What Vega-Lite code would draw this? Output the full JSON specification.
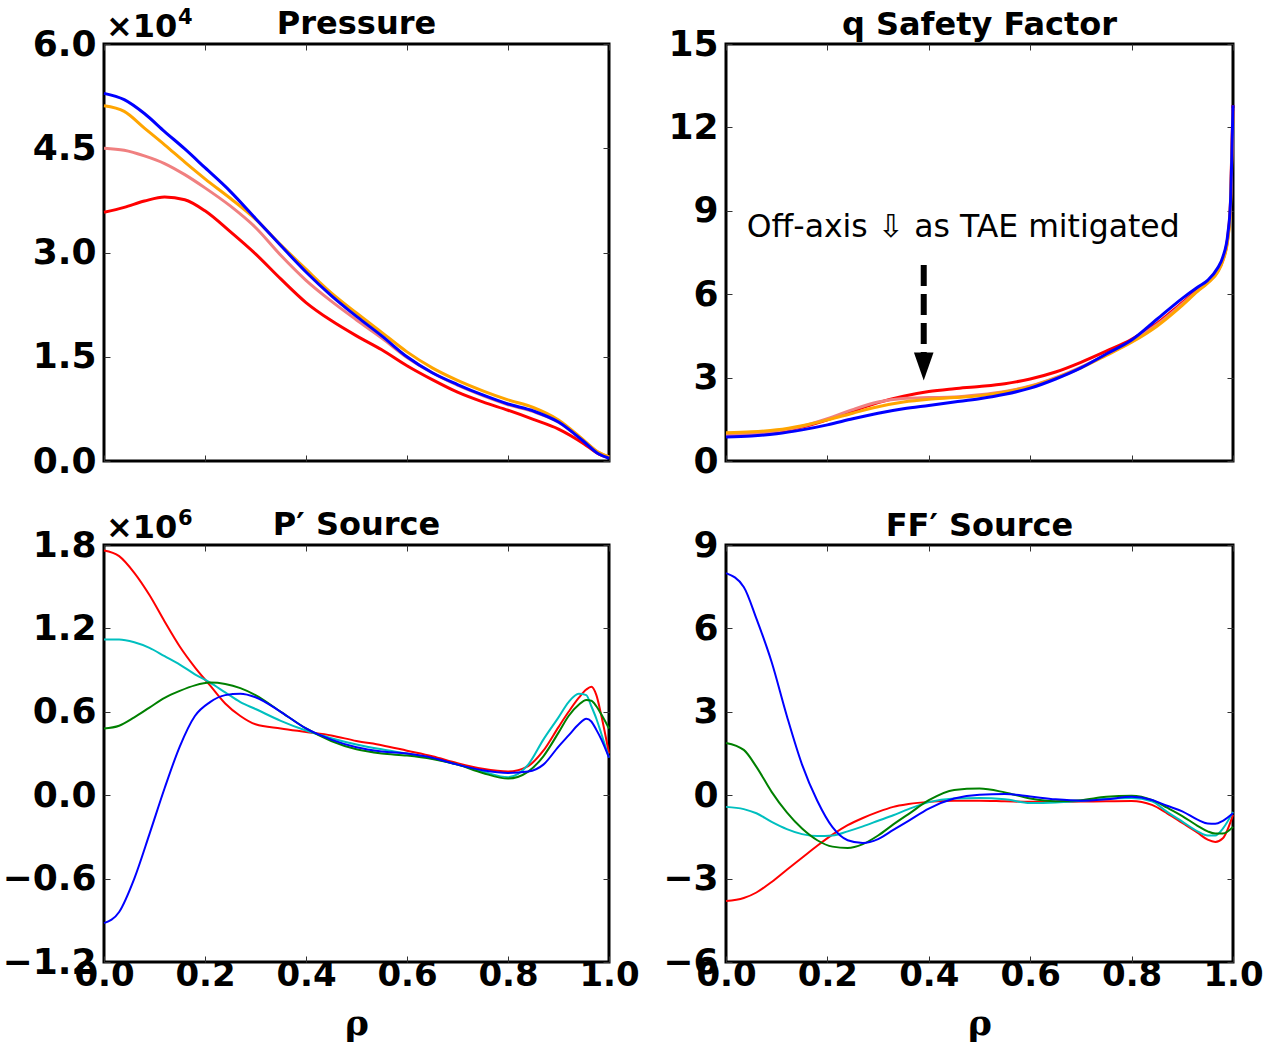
{
  "$schema": "https://vega.github.io/schema/vega-lite/v6.json",
  "background": "white",
  "padding": {"left": 0, "top": 5, "right": 0, "bottom": 0},
  "columns": 2,
  "spacing": {"row": 84, "column": 117},
  "bounds": "flush",
  "resolve": {"scale": {"color": "independent"}},
  "datasets": {
    "pressure": [
      {"rho":0,"case":"c1","p":35800},{"rho":0.04,"case":"c1","p":36500},{"rho":0.08,"case":"c1","p":37400},{"rho":0.12,"case":"c1","p":38000},{"rho":0.16,"case":"c1","p":37600},{"rho":0.2,"case":"c1","p":36000},{"rho":0.25,"case":"c1","p":33000},{"rho":0.3,"case":"c1","p":29800},{"rho":0.35,"case":"c1","p":26200},{"rho":0.4,"case":"c1","p":22800},{"rho":0.45,"case":"c1","p":20200},{"rho":0.5,"case":"c1","p":18000},{"rho":0.55,"case":"c1","p":16000},{"rho":0.6,"case":"c1","p":13700},{"rho":0.65,"case":"c1","p":11700},{"rho":0.7,"case":"c1","p":9900},{"rho":0.75,"case":"c1","p":8500},{"rho":0.8,"case":"c1","p":7300},{"rho":0.85,"case":"c1","p":6000},{"rho":0.9,"case":"c1","p":4600},{"rho":0.95,"case":"c1","p":2500},{"rho":0.98,"case":"c1","p":1000},{"rho":1,"case":"c1","p":500},
      {"rho":0,"case":"c2","p":45000},{"rho":0.04,"case":"c2","p":44700},{"rho":0.08,"case":"c2","p":43900},{"rho":0.12,"case":"c2","p":42800},{"rho":0.16,"case":"c2","p":41200},{"rho":0.2,"case":"c2","p":39300},{"rho":0.25,"case":"c2","p":36700},{"rho":0.3,"case":"c2","p":33600},{"rho":0.35,"case":"c2","p":29600},{"rho":0.4,"case":"c2","p":26000},{"rho":0.45,"case":"c2","p":23000},{"rho":0.5,"case":"c2","p":20300},{"rho":0.55,"case":"c2","p":17700},{"rho":0.6,"case":"c2","p":14900},{"rho":0.65,"case":"c2","p":12700},{"rho":0.7,"case":"c2","p":10900},{"rho":0.75,"case":"c2","p":9400},{"rho":0.8,"case":"c2","p":8100},{"rho":0.85,"case":"c2","p":7100},{"rho":0.9,"case":"c2","p":5600},{"rho":0.95,"case":"c2","p":2900},{"rho":0.98,"case":"c2","p":1200},{"rho":1,"case":"c2","p":600},
      {"rho":0,"case":"c3","p":51100},{"rho":0.04,"case":"c3","p":50300},{"rho":0.08,"case":"c3","p":47900},{"rho":0.12,"case":"c3","p":45500},{"rho":0.16,"case":"c3","p":43000},{"rho":0.2,"case":"c3","p":40600},{"rho":0.25,"case":"c3","p":37800},{"rho":0.3,"case":"c3","p":34800},{"rho":0.35,"case":"c3","p":31100},{"rho":0.4,"case":"c3","p":27600},{"rho":0.45,"case":"c3","p":24200},{"rho":0.5,"case":"c3","p":21300},{"rho":0.55,"case":"c3","p":18500},{"rho":0.6,"case":"c3","p":15700},{"rho":0.65,"case":"c3","p":13400},{"rho":0.7,"case":"c3","p":11600},{"rho":0.75,"case":"c3","p":10100},{"rho":0.8,"case":"c3","p":8800},{"rho":0.85,"case":"c3","p":7700},{"rho":0.9,"case":"c3","p":5900},{"rho":0.95,"case":"c3","p":3000},{"rho":0.98,"case":"c3","p":1200},{"rho":1,"case":"c3","p":600},
      {"rho":0,"case":"c4","p":52900},{"rho":0.04,"case":"c4","p":52000},{"rho":0.08,"case":"c4","p":50000},{"rho":0.12,"case":"c4","p":47400},{"rho":0.16,"case":"c4","p":44900},{"rho":0.2,"case":"c4","p":42200},{"rho":0.25,"case":"c4","p":38800},{"rho":0.3,"case":"c4","p":34900},{"rho":0.35,"case":"c4","p":31000},{"rho":0.4,"case":"c4","p":27200},{"rho":0.45,"case":"c4","p":23800},{"rho":0.5,"case":"c4","p":20800},{"rho":0.55,"case":"c4","p":18000},{"rho":0.6,"case":"c4","p":15000},{"rho":0.65,"case":"c4","p":12700},{"rho":0.7,"case":"c4","p":11000},{"rho":0.75,"case":"c4","p":9500},{"rho":0.8,"case":"c4","p":8200},{"rho":0.85,"case":"c4","p":7200},{"rho":0.9,"case":"c4","p":5600},{"rho":0.95,"case":"c4","p":2800},{"rho":0.98,"case":"c4","p":1000},{"rho":1,"case":"c4","p":400}
    ],
    "safety": [
      {"rho":0,"case":"c1","q":0.92},{"rho":0.05,"case":"c1","q":0.96},{"rho":0.1,"case":"c1","q":1.05},{"rho":0.15,"case":"c1","q":1.22},{"rho":0.2,"case":"c1","q":1.48},{"rho":0.25,"case":"c1","q":1.8},{"rho":0.3,"case":"c1","q":2.1},{"rho":0.35,"case":"c1","q":2.33},{"rho":0.4,"case":"c1","q":2.5},{"rho":0.45,"case":"c1","q":2.6},{"rho":0.5,"case":"c1","q":2.68},{"rho":0.55,"case":"c1","q":2.78},{"rho":0.6,"case":"c1","q":2.95},{"rho":0.65,"case":"c1","q":3.2},{"rho":0.7,"case":"c1","q":3.55},{"rho":0.75,"case":"c1","q":3.95},{"rho":0.8,"case":"c1","q":4.38},{"rho":0.85,"case":"c1","q":4.95},{"rho":0.9,"case":"c1","q":5.7},{"rho":0.93,"case":"c1","q":6.15},{"rho":0.95,"case":"c1","q":6.45},{"rho":0.97,"case":"c1","q":6.85},{"rho":0.98,"case":"c1","q":7.25},{"rho":0.99,"case":"c1","q":8.1},{"rho":0.995,"case":"c1","q":9.3},{"rho":1,"case":"c1","q":12.8},
      {"rho":0,"case":"c2","q":0.95},{"rho":0.05,"case":"c2","q":0.98},{"rho":0.1,"case":"c2","q":1.08},{"rho":0.15,"case":"c2","q":1.25},{"rho":0.2,"case":"c2","q":1.52},{"rho":0.25,"case":"c2","q":1.85},{"rho":0.3,"case":"c2","q":2.12},{"rho":0.35,"case":"c2","q":2.25},{"rho":0.4,"case":"c2","q":2.28},{"rho":0.45,"case":"c2","q":2.3},{"rho":0.5,"case":"c2","q":2.38},{"rho":0.55,"case":"c2","q":2.5},{"rho":0.6,"case":"c2","q":2.7},{"rho":0.65,"case":"c2","q":3.0},{"rho":0.7,"case":"c2","q":3.38},{"rho":0.75,"case":"c2","q":3.82},{"rho":0.8,"case":"c2","q":4.3},{"rho":0.85,"case":"c2","q":4.9},{"rho":0.9,"case":"c2","q":5.65},{"rho":0.93,"case":"c2","q":6.12},{"rho":0.95,"case":"c2","q":6.42},{"rho":0.97,"case":"c2","q":6.82},{"rho":0.98,"case":"c2","q":7.22},{"rho":0.99,"case":"c2","q":8.05},{"rho":0.995,"case":"c2","q":9.2},{"rho":1,"case":"c2","q":12.7},
      {"rho":0,"case":"c3","q":1.02},{"rho":0.05,"case":"c3","q":1.05},{"rho":0.1,"case":"c3","q":1.12},{"rho":0.15,"case":"c3","q":1.27},{"rho":0.2,"case":"c3","q":1.48},{"rho":0.25,"case":"c3","q":1.72},{"rho":0.3,"case":"c3","q":1.95},{"rho":0.35,"case":"c3","q":2.12},{"rho":0.4,"case":"c3","q":2.22},{"rho":0.45,"case":"c3","q":2.28},{"rho":0.5,"case":"c3","q":2.35},{"rho":0.55,"case":"c3","q":2.48},{"rho":0.6,"case":"c3","q":2.68},{"rho":0.65,"case":"c3","q":2.98},{"rho":0.7,"case":"c3","q":3.35},{"rho":0.75,"case":"c3","q":3.8},{"rho":0.8,"case":"c3","q":4.27},{"rho":0.85,"case":"c3","q":4.85},{"rho":0.9,"case":"c3","q":5.6},{"rho":0.93,"case":"c3","q":6.1},{"rho":0.95,"case":"c3","q":6.4},{"rho":0.97,"case":"c3","q":6.8},{"rho":0.98,"case":"c3","q":7.2},{"rho":0.99,"case":"c3","q":8.0},{"rho":0.995,"case":"c3","q":9.1},{"rho":1,"case":"c3","q":12.6},
      {"rho":0,"case":"c4","q":0.86},{"rho":0.05,"case":"c4","q":0.9},{"rho":0.1,"case":"c4","q":0.98},{"rho":0.15,"case":"c4","q":1.12},{"rho":0.2,"case":"c4","q":1.3},{"rho":0.25,"case":"c4","q":1.52},{"rho":0.3,"case":"c4","q":1.72},{"rho":0.35,"case":"c4","q":1.88},{"rho":0.4,"case":"c4","q":2.0},{"rho":0.45,"case":"c4","q":2.12},{"rho":0.5,"case":"c4","q":2.24},{"rho":0.55,"case":"c4","q":2.4},{"rho":0.6,"case":"c4","q":2.62},{"rho":0.65,"case":"c4","q":2.95},{"rho":0.7,"case":"c4","q":3.35},{"rho":0.75,"case":"c4","q":3.85},{"rho":0.8,"case":"c4","q":4.35},{"rho":0.85,"case":"c4","q":5.1},{"rho":0.9,"case":"c4","q":5.85},{"rho":0.93,"case":"c4","q":6.25},{"rho":0.95,"case":"c4","q":6.5},{"rho":0.97,"case":"c4","q":6.95},{"rho":0.98,"case":"c4","q":7.34},{"rho":0.99,"case":"c4","q":8.2},{"rho":0.995,"case":"c4","q":9.3},{"rho":1,"case":"c4","q":12.8}
    ],
    "pprime": [
      {"rho":0,"case":"s1","v":1760000},{"rho":0.03,"case":"s1","v":1720000},{"rho":0.06,"case":"s1","v":1600000},{"rho":0.09,"case":"s1","v":1440000},{"rho":0.12,"case":"s1","v":1250000},{"rho":0.15,"case":"s1","v":1070000},{"rho":0.18,"case":"s1","v":920000},{"rho":0.21,"case":"s1","v":790000},{"rho":0.24,"case":"s1","v":660000},{"rho":0.27,"case":"s1","v":570000},{"rho":0.3,"case":"s1","v":510000},{"rho":0.35,"case":"s1","v":480000},{"rho":0.4,"case":"s1","v":455000},{"rho":0.45,"case":"s1","v":430000},{"rho":0.5,"case":"s1","v":390000},{"rho":0.55,"case":"s1","v":360000},{"rho":0.6,"case":"s1","v":320000},{"rho":0.65,"case":"s1","v":280000},{"rho":0.7,"case":"s1","v":230000},{"rho":0.75,"case":"s1","v":190000},{"rho":0.8,"case":"s1","v":170000},{"rho":0.84,"case":"s1","v":210000},{"rho":0.87,"case":"s1","v":320000},{"rho":0.9,"case":"s1","v":490000},{"rho":0.92,"case":"s1","v":600000},{"rho":0.94,"case":"s1","v":700000},{"rho":0.955,"case":"s1","v":760000},{"rho":0.965,"case":"s1","v":780000},{"rho":0.975,"case":"s1","v":720000},{"rho":0.985,"case":"s1","v":570000},{"rho":1,"case":"s1","v":300000},
      {"rho":0,"case":"s2","v":1120000},{"rho":0.03,"case":"s2","v":1120000},{"rho":0.06,"case":"s2","v":1100000},{"rho":0.09,"case":"s2","v":1060000},{"rho":0.12,"case":"s2","v":1000000},{"rho":0.15,"case":"s2","v":940000},{"rho":0.18,"case":"s2","v":870000},{"rho":0.21,"case":"s2","v":810000},{"rho":0.24,"case":"s2","v":740000},{"rho":0.27,"case":"s2","v":670000},{"rho":0.3,"case":"s2","v":620000},{"rho":0.35,"case":"s2","v":535000},{"rho":0.4,"case":"s2","v":465000},{"rho":0.45,"case":"s2","v":410000},{"rho":0.5,"case":"s2","v":365000},{"rho":0.55,"case":"s2","v":330000},{"rho":0.6,"case":"s2","v":300000},{"rho":0.65,"case":"s2","v":265000},{"rho":0.7,"case":"s2","v":220000},{"rho":0.75,"case":"s2","v":170000},{"rho":0.8,"case":"s2","v":130000},{"rho":0.84,"case":"s2","v":220000},{"rho":0.87,"case":"s2","v":400000},{"rho":0.9,"case":"s2","v":560000},{"rho":0.92,"case":"s2","v":670000},{"rho":0.94,"case":"s2","v":730000},{"rho":0.955,"case":"s2","v":720000},{"rho":0.965,"case":"s2","v":640000},{"rho":0.975,"case":"s2","v":550000},{"rho":0.985,"case":"s2","v":440000},{"rho":1,"case":"s2","v":270000},
      {"rho":0,"case":"s3","v":480000},{"rho":0.03,"case":"s3","v":500000},{"rho":0.06,"case":"s3","v":560000},{"rho":0.09,"case":"s3","v":630000},{"rho":0.12,"case":"s3","v":700000},{"rho":0.15,"case":"s3","v":750000},{"rho":0.18,"case":"s3","v":790000},{"rho":0.21,"case":"s3","v":810000},{"rho":0.24,"case":"s3","v":800000},{"rho":0.27,"case":"s3","v":770000},{"rho":0.3,"case":"s3","v":720000},{"rho":0.35,"case":"s3","v":600000},{"rho":0.4,"case":"s3","v":480000},{"rho":0.45,"case":"s3","v":390000},{"rho":0.5,"case":"s3","v":330000},{"rho":0.55,"case":"s3","v":300000},{"rho":0.6,"case":"s3","v":285000},{"rho":0.65,"case":"s3","v":260000},{"rho":0.7,"case":"s3","v":220000},{"rho":0.75,"case":"s3","v":160000},{"rho":0.8,"case":"s3","v":120000},{"rho":0.84,"case":"s3","v":170000},{"rho":0.87,"case":"s3","v":280000},{"rho":0.9,"case":"s3","v":450000},{"rho":0.92,"case":"s3","v":570000},{"rho":0.94,"case":"s3","v":650000},{"rho":0.955,"case":"s3","v":685000},{"rho":0.965,"case":"s3","v":680000},{"rho":0.975,"case":"s3","v":640000},{"rho":0.985,"case":"s3","v":580000},{"rho":1,"case":"s3","v":480000},
      {"rho":0,"case":"s4","v":-920000},{"rho":0.03,"case":"s4","v":-840000},{"rho":0.06,"case":"s4","v":-600000},{"rho":0.09,"case":"s4","v":-280000},{"rho":0.12,"case":"s4","v":50000},{"rho":0.15,"case":"s4","v":350000},{"rho":0.18,"case":"s4","v":570000},{"rho":0.21,"case":"s4","v":670000},{"rho":0.24,"case":"s4","v":720000},{"rho":0.27,"case":"s4","v":730000},{"rho":0.3,"case":"s4","v":705000},{"rho":0.35,"case":"s4","v":600000},{"rho":0.4,"case":"s4","v":480000},{"rho":0.45,"case":"s4","v":400000},{"rho":0.5,"case":"s4","v":345000},{"rho":0.55,"case":"s4","v":315000},{"rho":0.6,"case":"s4","v":300000},{"rho":0.65,"case":"s4","v":270000},{"rho":0.7,"case":"s4","v":220000},{"rho":0.75,"case":"s4","v":180000},{"rho":0.8,"case":"s4","v":160000},{"rho":0.84,"case":"s4","v":170000},{"rho":0.87,"case":"s4","v":220000},{"rho":0.9,"case":"s4","v":350000},{"rho":0.92,"case":"s4","v":430000},{"rho":0.94,"case":"s4","v":510000},{"rho":0.955,"case":"s4","v":550000},{"rho":0.965,"case":"s4","v":530000},{"rho":0.975,"case":"s4","v":470000},{"rho":0.985,"case":"s4","v":400000},{"rho":1,"case":"s4","v":270000}
    ],
    "ffprime": [
      {"rho":0,"case":"s1","v":-3.81},{"rho":0.035,"case":"s1","v":-3.7},{"rho":0.06,"case":"s1","v":-3.5},{"rho":0.09,"case":"s1","v":-3.12},{"rho":0.12,"case":"s1","v":-2.68},{"rho":0.15,"case":"s1","v":-2.25},{"rho":0.18,"case":"s1","v":-1.82},{"rho":0.21,"case":"s1","v":-1.42},{"rho":0.24,"case":"s1","v":-1.08},{"rho":0.27,"case":"s1","v":-0.82},{"rho":0.3,"case":"s1","v":-0.6},{"rho":0.33,"case":"s1","v":-0.42},{"rho":0.36,"case":"s1","v":-0.32},{"rho":0.4,"case":"s1","v":-0.24},{"rho":0.45,"case":"s1","v":-0.2},{"rho":0.5,"case":"s1","v":-0.2},{"rho":0.55,"case":"s1","v":-0.22},{"rho":0.6,"case":"s1","v":-0.24},{"rho":0.65,"case":"s1","v":-0.24},{"rho":0.7,"case":"s1","v":-0.23},{"rho":0.75,"case":"s1","v":-0.22},{"rho":0.8,"case":"s1","v":-0.21},{"rho":0.84,"case":"s1","v":-0.35},{"rho":0.87,"case":"s1","v":-0.65},{"rho":0.9,"case":"s1","v":-1.0},{"rho":0.93,"case":"s1","v":-1.35},{"rho":0.95,"case":"s1","v":-1.6},{"rho":0.965,"case":"s1","v":-1.68},{"rho":0.98,"case":"s1","v":-1.55},{"rho":1,"case":"s1","v":-0.71},
      {"rho":0,"case":"s2","v":-0.42},{"rho":0.035,"case":"s2","v":-0.5},{"rho":0.06,"case":"s2","v":-0.65},{"rho":0.09,"case":"s2","v":-0.96},{"rho":0.12,"case":"s2","v":-1.22},{"rho":0.15,"case":"s2","v":-1.4},{"rho":0.18,"case":"s2","v":-1.47},{"rho":0.21,"case":"s2","v":-1.45},{"rho":0.24,"case":"s2","v":-1.3},{"rho":0.27,"case":"s2","v":-1.12},{"rho":0.3,"case":"s2","v":-0.92},{"rho":0.33,"case":"s2","v":-0.72},{"rho":0.36,"case":"s2","v":-0.5},{"rho":0.4,"case":"s2","v":-0.25},{"rho":0.45,"case":"s2","v":-0.12},{"rho":0.5,"case":"s2","v":-0.1},{"rho":0.55,"case":"s2","v":-0.15},{"rho":0.6,"case":"s2","v":-0.28},{"rho":0.65,"case":"s2","v":-0.26},{"rho":0.7,"case":"s2","v":-0.2},{"rho":0.75,"case":"s2","v":-0.13},{"rho":0.8,"case":"s2","v":-0.1},{"rho":0.84,"case":"s2","v":-0.22},{"rho":0.87,"case":"s2","v":-0.6},{"rho":0.9,"case":"s2","v":-0.95},{"rho":0.93,"case":"s2","v":-1.3},{"rho":0.95,"case":"s2","v":-1.45},{"rho":0.965,"case":"s2","v":-1.45},{"rho":0.98,"case":"s2","v":-1.2},{"rho":1,"case":"s2","v":-0.6},
      {"rho":0,"case":"s3","v":1.88},{"rho":0.035,"case":"s3","v":1.63},{"rho":0.06,"case":"s3","v":1.02},{"rho":0.09,"case":"s3","v":0.12},{"rho":0.12,"case":"s3","v":-0.62},{"rho":0.15,"case":"s3","v":-1.2},{"rho":0.18,"case":"s3","v":-1.62},{"rho":0.21,"case":"s3","v":-1.85},{"rho":0.24,"case":"s3","v":-1.9},{"rho":0.27,"case":"s3","v":-1.76},{"rho":0.3,"case":"s3","v":-1.45},{"rho":0.33,"case":"s3","v":-1.05},{"rho":0.36,"case":"s3","v":-0.68},{"rho":0.4,"case":"s3","v":-0.18},{"rho":0.45,"case":"s3","v":0.19},{"rho":0.5,"case":"s3","v":0.24},{"rho":0.55,"case":"s3","v":0.1},{"rho":0.6,"case":"s3","v":-0.12},{"rho":0.65,"case":"s3","v":-0.22},{"rho":0.7,"case":"s3","v":-0.18},{"rho":0.75,"case":"s3","v":-0.06},{"rho":0.8,"case":"s3","v":-0.02},{"rho":0.84,"case":"s3","v":-0.17},{"rho":0.87,"case":"s3","v":-0.45},{"rho":0.9,"case":"s3","v":-0.75},{"rho":0.93,"case":"s3","v":-1.1},{"rho":0.95,"case":"s3","v":-1.3},{"rho":0.965,"case":"s3","v":-1.38},{"rho":0.98,"case":"s3","v":-1.38},{"rho":1,"case":"s3","v":-1.14},
      {"rho":0,"case":"s4","v":7.99},{"rho":0.035,"case":"s4","v":7.49},{"rho":0.06,"case":"s4","v":6.35},{"rho":0.09,"case":"s4","v":4.79},{"rho":0.12,"case":"s4","v":2.85},{"rho":0.15,"case":"s4","v":1.1},{"rho":0.18,"case":"s4","v":-0.2},{"rho":0.21,"case":"s4","v":-1.15},{"rho":0.24,"case":"s4","v":-1.62},{"rho":0.27,"case":"s4","v":-1.72},{"rho":0.3,"case":"s4","v":-1.58},{"rho":0.33,"case":"s4","v":-1.25},{"rho":0.36,"case":"s4","v":-0.92},{"rho":0.4,"case":"s4","v":-0.48},{"rho":0.45,"case":"s4","v":-0.12},{"rho":0.5,"case":"s4","v":0.02},{"rho":0.55,"case":"s4","v":0.04},{"rho":0.6,"case":"s4","v":-0.05},{"rho":0.65,"case":"s4","v":-0.15},{"rho":0.7,"case":"s4","v":-0.2},{"rho":0.75,"case":"s4","v":-0.15},{"rho":0.8,"case":"s4","v":-0.06},{"rho":0.84,"case":"s4","v":-0.17},{"rho":0.87,"case":"s4","v":-0.38},{"rho":0.9,"case":"s4","v":-0.58},{"rho":0.93,"case":"s4","v":-0.88},{"rho":0.95,"case":"s4","v":-1.02},{"rho":0.965,"case":"s4","v":-1.03},{"rho":0.98,"case":"s4","v":-0.92},{"rho":1,"case":"s4","v":-0.65}
    ]
  },
  "concat": [
    {
      "width": 505, "height": 417,
      "title": {"text": "Pressure", "offset": -34},
      "data": {"name": "pressure"},
      "layer": [
        {
          "mark": {"type": "line", "strokeWidth": 3, "interpolate": "monotone"},
          "encoding": {
            "x": {"field": "rho", "type": "quantitative", "scale": {"domain": [0, 1], "nice": false}, "axis": {"orient": "bottom", "values": [0, 0.2, 0.4, 0.6, 0.8, 1], "labels": false, "title": null}},
            "y": {"field": "p", "type": "quantitative", "scale": {"domain": [0, 60000], "nice": false, "zero": false}, "axis": {"orient": "left", "values": [0, 15000, 30000, 45000, 60000], "labelExpr": "format(datum.value / 10000, '.1f')", "title": null}},
            "color": {"field": "case", "type": "nominal", "scale": {"domain": ["c1", "c2", "c3", "c4"], "range": ["#ff0000", "#f08080", "#ffa500", "#0000ff"]}, "legend": null}
          }
        },
        {
          "mark": {"type": "line", "opacity": 0},
          "encoding": {
            "x": {"field": "rho", "type": "quantitative", "scale": {"domain": [0, 1], "nice": false}, "axis": {"orient": "top", "values": [0, 0.2, 0.4, 0.6, 0.8, 1], "labels": false, "title": null}},
            "y": {"field": "p", "type": "quantitative", "scale": {"domain": [0, 60000], "nice": false, "zero": false}, "axis": {"orient": "right", "values": [0, 15000, 30000, 45000, 60000], "labels": false, "title": null}},
            "detail": {"field": "case"}
          }
        },
        {
          "data": {"values": [{"rho": 0, "p": 60000, "base": "×10", "power": "4"}]},
          "layer": [
            {
              "mark": {"type": "text", "align": "left", "baseline": "alphabetic", "dx": 2, "dy": -7, "font": "DejaVu Sans", "fontWeight": "bold", "fontSize": 32, "color": "black"},
              "encoding": {"text": {"field": "base"}}
            },
            {
              "mark": {"type": "text", "align": "left", "baseline": "alphabetic", "dx": 74, "dy": -20, "font": "DejaVu Sans", "fontWeight": "bold", "fontSize": 21, "color": "black"},
              "encoding": {"text": {"field": "power"}}
            }
          ],
          "encoding": {
            "x": {"field": "rho", "type": "quantitative", "scale": {"domain": [0, 1], "nice": false}, "axis": null},
            "y": {"field": "p", "type": "quantitative", "scale": {"domain": [0, 60000], "nice": false, "zero": false}, "axis": null}
          }
        }
      ],
      "resolve": {"axis": {"x": "independent", "y": "independent"}}
    },
    {
      "width": 507, "height": 417,
      "title": {"text": "q Safety Factor", "offset": -16},
      "data": {"name": "safety"},
      "layer": [
        {
          "mark": {"type": "line", "strokeWidth": 3, "interpolate": "monotone"},
          "encoding": {
            "x": {"field": "rho", "type": "quantitative", "scale": {"domain": [0, 1], "nice": false}, "axis": {"orient": "bottom", "values": [0, 0.2, 0.4, 0.6, 0.8, 1], "labels": false, "title": null}},
            "y": {"field": "q", "type": "quantitative", "scale": {"domain": [0, 15], "nice": false, "zero": false}, "axis": {"orient": "left", "values": [0, 3, 6, 9, 12, 15], "title": null}},
            "color": {"field": "case", "type": "nominal", "scale": {"domain": ["c1", "c2", "c3", "c4"], "range": ["#ff0000", "#f08080", "#ffa500", "#0000ff"]}, "legend": null}
          }
        },
        {
          "mark": {"type": "line", "opacity": 0},
          "encoding": {
            "x": {"field": "rho", "type": "quantitative", "scale": {"domain": [0, 1], "nice": false}, "axis": {"orient": "top", "values": [0, 0.2, 0.4, 0.6, 0.8, 1], "labels": false, "title": null}},
            "y": {"field": "q", "type": "quantitative", "scale": {"domain": [0, 15], "nice": false, "zero": false}, "axis": {"orient": "right", "values": [0, 3, 6, 9, 12, 15], "labels": false, "title": null}},
            "detail": {"field": "case"}
          }
        },
        {
          "data": {"values": [{"rho": 0.468, "q": 8.06, "label": "Off-axis ⇩ as TAE mitigated"}]},
          "mark": {"type": "text", "align": "center", "baseline": "alphabetic", "font": "DejaVu Sans", "fontSize": 31.5, "color": "black"},
          "encoding": {
            "x": {"field": "rho", "type": "quantitative", "scale": {"domain": [0, 1], "nice": false}, "axis": null},
            "y": {"field": "q", "type": "quantitative", "scale": {"domain": [0, 15], "nice": false, "zero": false}, "axis": null},
            "text": {"field": "label"}
          }
        },
        {
          "data": {"values": [{"rho": 0.39, "q": 7.05, "q2": 3.86}]},
          "mark": {"type": "rule", "strokeWidth": 6, "strokeDash": [21, 8], "color": "black", "strokeCap": "butt"},
          "encoding": {
            "x": {"field": "rho", "type": "quantitative", "scale": {"domain": [0, 1], "nice": false}, "axis": null},
            "y": {"field": "q", "type": "quantitative", "scale": {"domain": [0, 15], "nice": false, "zero": false}, "axis": null},
            "y2": {"field": "q2"}
          }
        },
        {
          "data": {"values": [{"rho": 0.39, "q": 3.4}]},
          "mark": {"type": "point", "shape": "M-0.7,-1L0.7,-1L0,1Z", "filled": true, "color": "black", "opacity": 1, "size": 784},
          "encoding": {
            "x": {"field": "rho", "type": "quantitative", "scale": {"domain": [0, 1], "nice": false}, "axis": null},
            "y": {"field": "q", "type": "quantitative", "scale": {"domain": [0, 15], "nice": false, "zero": false}, "axis": null}
          }
        }
      ],
      "resolve": {"axis": {"x": "independent", "y": "independent"}}
    },
    {
      "width": 505, "height": 417,
      "title": {"text": "P′ Source", "offset": -34},
      "data": {"name": "pprime"},
      "layer": [
        {
          "mark": {"type": "line", "strokeWidth": 2, "interpolate": "monotone"},
          "encoding": {
            "x": {"field": "rho", "type": "quantitative", "scale": {"domain": [0, 1], "nice": false}, "axis": {"orient": "bottom", "values": [0, 0.2, 0.4, 0.6, 0.8, 1], "format": ".1f", "title": "ρ"}},
            "y": {"field": "v", "type": "quantitative", "scale": {"domain": [-1200000, 1800000], "nice": false, "zero": false}, "axis": {"orient": "left", "values": [-1200000, -600000, 0, 600000, 1200000, 1800000], "labelExpr": "format(datum.value / 1000000, '.1f')", "title": null}},
            "color": {"field": "case", "type": "nominal", "scale": {"domain": ["s1", "s2", "s3", "s4"], "range": ["#ff0000", "#00bfbf", "#008000", "#0000ff"]}, "legend": null}
          }
        },
        {
          "mark": {"type": "line", "opacity": 0},
          "encoding": {
            "x": {"field": "rho", "type": "quantitative", "scale": {"domain": [0, 1], "nice": false}, "axis": {"orient": "top", "values": [0, 0.2, 0.4, 0.6, 0.8, 1], "labels": false, "title": null}},
            "y": {"field": "v", "type": "quantitative", "scale": {"domain": [-1200000, 1800000], "nice": false, "zero": false}, "axis": {"orient": "right", "values": [-1200000, -600000, 0, 600000, 1200000, 1800000], "labels": false, "title": null}},
            "detail": {"field": "case"}
          }
        },
        {
          "data": {"values": [{"rho": 0, "v": 1800000, "base": "×10", "power": "6"}]},
          "layer": [
            {
              "mark": {"type": "text", "align": "left", "baseline": "alphabetic", "dx": 2, "dy": -7, "font": "DejaVu Sans", "fontWeight": "bold", "fontSize": 32, "color": "black"},
              "encoding": {"text": {"field": "base"}}
            },
            {
              "mark": {"type": "text", "align": "left", "baseline": "alphabetic", "dx": 74, "dy": -20, "font": "DejaVu Sans", "fontWeight": "bold", "fontSize": 21, "color": "black"},
              "encoding": {"text": {"field": "power"}}
            }
          ],
          "encoding": {
            "x": {"field": "rho", "type": "quantitative", "scale": {"domain": [0, 1], "nice": false}, "axis": null},
            "y": {"field": "v", "type": "quantitative", "scale": {"domain": [-1200000, 1800000], "nice": false, "zero": false}, "axis": null}
          }
        }
      ],
      "resolve": {"axis": {"x": "independent", "y": "independent"}}
    },
    {
      "width": 507, "height": 417,
      "title": {"text": "FF′ Source", "offset": -16},
      "data": {"name": "ffprime"},
      "layer": [
        {
          "mark": {"type": "line", "strokeWidth": 2, "interpolate": "monotone"},
          "encoding": {
            "x": {"field": "rho", "type": "quantitative", "scale": {"domain": [0, 1], "nice": false}, "axis": {"orient": "bottom", "values": [0, 0.2, 0.4, 0.6, 0.8, 1], "format": ".1f", "title": "ρ"}},
            "y": {"field": "v", "type": "quantitative", "scale": {"domain": [-6, 9], "nice": false, "zero": false}, "axis": {"orient": "left", "values": [-6, -3, 0, 3, 6, 9], "title": null}},
            "color": {"field": "case", "type": "nominal", "scale": {"domain": ["s1", "s2", "s3", "s4"], "range": ["#ff0000", "#00bfbf", "#008000", "#0000ff"]}, "legend": null}
          }
        },
        {
          "mark": {"type": "line", "opacity": 0},
          "encoding": {
            "x": {"field": "rho", "type": "quantitative", "scale": {"domain": [0, 1], "nice": false}, "axis": {"orient": "top", "values": [0, 0.2, 0.4, 0.6, 0.8, 1], "labels": false, "title": null}},
            "y": {"field": "v", "type": "quantitative", "scale": {"domain": [-6, 9], "nice": false, "zero": false}, "axis": {"orient": "right", "values": [-6, -3, 0, 3, 6, 9], "labels": false, "title": null}},
            "detail": {"field": "case"}
          }
        }
      ],
      "resolve": {"axis": {"x": "independent", "y": "independent"}}
    }
  ],
  "config": {
    "view": {"stroke": "black", "strokeWidth": 3},
    "title": {"font": "DejaVu Sans", "fontWeight": "bold", "fontSize": 32, "color": "black", "anchor": "middle", "frame": "group"},
    "axis": {
      "domain": false, "grid": false,
      "tickSize": -6, "tickColor": "#333333", "tickWidth": 1,
      "labelFont": "DejaVu Sans", "labelFontWeight": "bold", "labelColor": "black", "labelFontSize": 36,
      "labelFlush": false, "labelOverlap": false,
      "titleFont": "DejaVu Serif", "titleFontWeight": "bold", "titleFontSize": 36, "titleColor": "black"
    },
    "axisX": {"labelFontSize": 34, "labelPadding": 2, "titlePadding": 14},
    "axisY": {"labelPadding": 14}
  }
}
